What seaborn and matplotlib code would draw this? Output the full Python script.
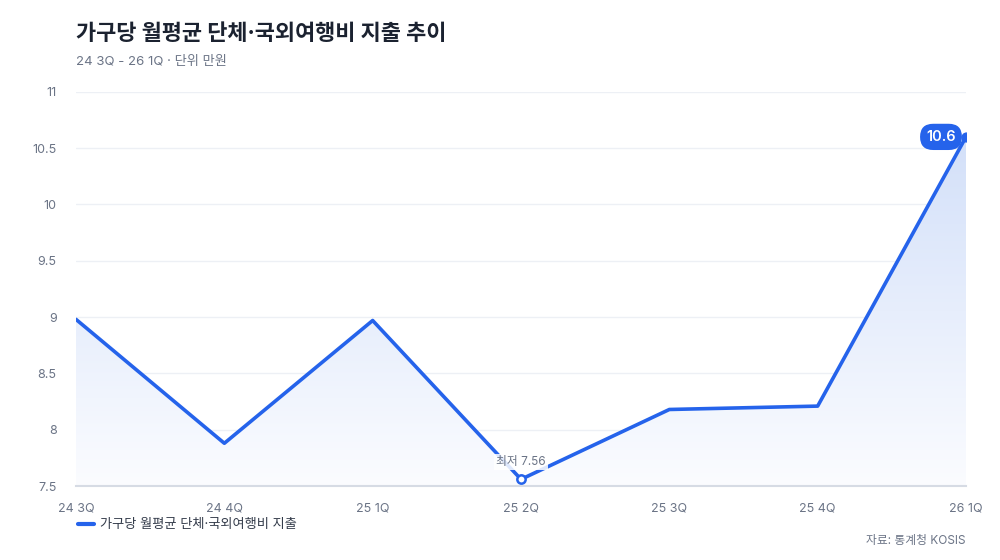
import numpy as np
import pandas as pd
import matplotlib
matplotlib.use("Agg")
import matplotlib.pyplot as plt
import seaborn as sns
from matplotlib.lines import Line2D

quarters = ["24 3Q", "24 4Q", "25 1Q", "25 2Q", "25 3Q", "25 4Q", "26 1Q"]
spend = [8.98, 7.88, 8.97, 7.56, 8.18, 8.21, 10.6]
series_name = "가구당 월평균 단체·국외여행비 지출"
yticks = [7.5, 8, 8.5, 9, 9.5, 10, 10.5, 11]

sns.set_theme(style="white")
plt.rcParams["font.family"] = ["Inter", "Noto Sans CJK KR", "DejaVu Sans"]

BLUE = "#2563eb"
GRAY = "#6b7486"

df = pd.DataFrame({"idx": np.arange(len(quarters)), "value": spend})

fig = plt.figure(figsize=(10, 5.6), dpi=100)
ax = fig.add_axes([0.076, 0.132, 0.89, 0.704])

# gradient fill under the line
poly = ax.fill_between(df["idx"], df["value"], 7.5, color="none", lw=0)
grad = np.linspace(0, 1, 256).reshape(-1, 1)
cmap = matplotlib.colors.LinearSegmentedColormap.from_list("g", ["#fbfcff", "#d3e0f9"])
img = ax.imshow(grad, extent=[0, 6, 7.5, 10.6], origin="lower", aspect="auto",
                cmap=cmap, zorder=1)
img.set_clip_path(poly.get_paths()[0], transform=ax.transData)

sns.lineplot(data=df, x="idx", y="value", ax=ax, color=BLUE, lw=2.6, zorder=3,
             legend=False)

# low point
imin = int(np.argmin(spend))
ax.scatter([imin], [spend[imin]], s=36, facecolor="white", edgecolor=BLUE,
           linewidth=1.8, zorder=5)
ax.text(imin, spend[imin] + 0.1, f"최저 {spend[imin]}", ha="center", va="bottom",
        fontsize=8.5, color=GRAY, zorder=6,
        bbox=dict(boxstyle="square,pad=0.15", fc="white", ec="none", alpha=0.85))

# last point
ilast = len(spend) - 1
ax.scatter([ilast], [spend[ilast]], s=40, color=BLUE, zorder=5)
ax.annotate(f"{spend[ilast]}", (ilast, spend[ilast]), xytext=(-18, 0),
            textcoords="offset points", ha="center", va="center",
            fontsize=10.5, fontweight="semibold", color="white", zorder=6,
            bbox=dict(boxstyle="round,pad=0.42,rounding_size=0.9", fc=BLUE, ec="none"))

ax.set_xlim(0, 6)
ax.set_ylim(7.5, 11)
ax.set_xticks(range(len(quarters)))
ax.set_xticklabels(quarters)
ax.set_yticks(yticks)
ax.set_yticklabels([f"{t:g}" for t in yticks])
ax.tick_params(axis="both", length=0, labelsize=9, labelcolor=GRAY)
ax.tick_params(axis="x", pad=12)
ax.tick_params(axis="y", pad=14)
ax.set_xlabel("")
ax.set_ylabel("")
ax.grid(axis="y", color="#edf0f5", lw=1)
ax.set_axisbelow(True)
for s in ["top", "right", "left"]:
    ax.spines[s].set_visible(False)
ax.spines["bottom"].set_color("#d6dbe4")
ax.spines["bottom"].set_linewidth(1.5)

fig.text(0.076, 0.94, "가구당 월평균 단체·국외여행비 지출 추이", fontsize=15.8,
         fontweight="bold", color="#1b2230", va="center")
fig.text(0.076, 0.89, "24 3Q - 26 1Q · 단위 만원", fontsize=9.5, color=GRAY,
         va="center")

handle = Line2D([], [], color=BLUE, lw=3)
fig.legend([handle], [series_name], loc="center left", bbox_to_anchor=(0.066, 0.062),
           frameon=False, fontsize=9.5, handlelength=1.2, handletextpad=0.5,
           labelcolor="#333b4a")
fig.text(0.966, 0.034, "자료: 통계청 KOSIS", ha="right", va="center", fontsize=8.5,
         color=GRAY)

fig.savefig("out.png", dpi=100, facecolor="white")
